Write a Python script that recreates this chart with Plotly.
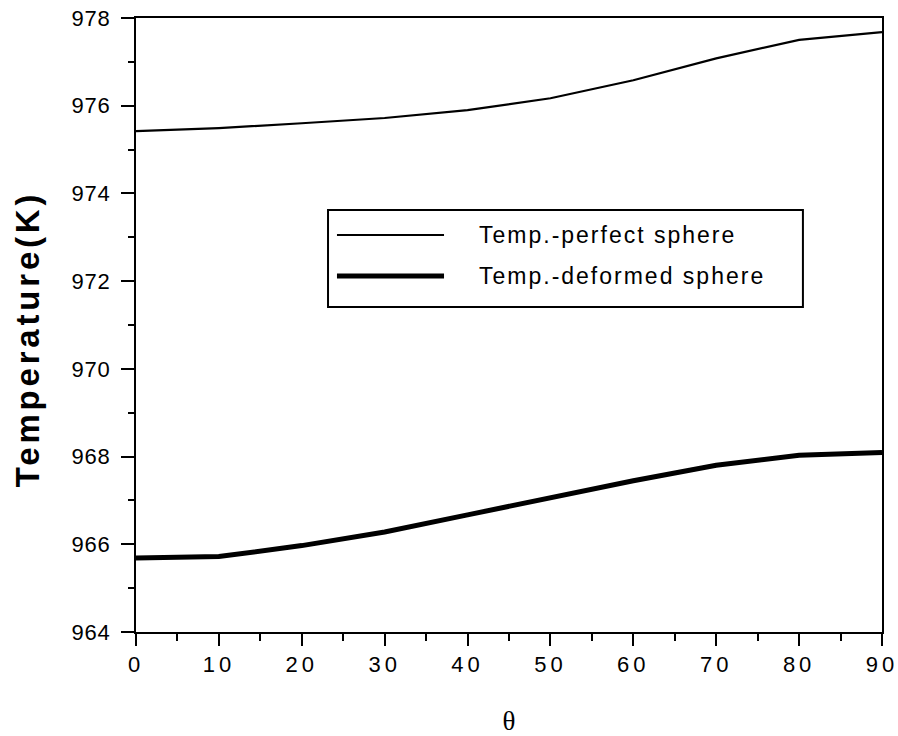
import plotly.graph_objects as go

theta = [0, 10, 20, 30, 40, 50, 60, 70, 80, 90]
temp_perfect = [975.42, 975.49, 975.60, 975.72, 975.90, 976.17, 976.58, 977.08, 977.50, 977.68]
temp_deformed = [965.69, 965.72, 965.97, 966.28, 966.67, 967.07, 967.45, 967.80, 968.03, 968.09]

name_perfect = "Temp.-perfect sphere"
name_deformed = "Temp.-deformed sphere"
x_title = "θ"
y_title = "Temperature(K)"
x_ticks = [0, 10, 20, 30, 40, 50, 60, 70, 80, 90]
y_ticks = [964, 966, 968, 970, 972, 974, 976, 978]

fig = go.Figure()
fig.add_trace(go.Scatter(x=theta, y=temp_perfect, mode="lines", name=name_perfect,
                         line=dict(color="black", width=2.2), showlegend=False))
fig.add_trace(go.Scatter(x=theta, y=temp_deformed, mode="lines", name=name_deformed,
                         line=dict(color="black", width=5), showlegend=False))

# custom legend box (paper coordinates)
fig.add_shape(type="rect", xref="paper", yref="paper", x0=0.2574, x1=0.894, y0=0.5293, y1=0.6873,
              line=dict(color="black", width=2), fillcolor="white", layer="above")
fig.add_shape(type="line", xref="paper", yref="paper", x0=0.2694, x1=0.4129, y0=0.6466, y1=0.6466,
              line=dict(color="black", width=2.2))
fig.add_shape(type="line", xref="paper", yref="paper", x0=0.2694, x1=0.4129, y0=0.5798, y1=0.5798,
              line=dict(color="black", width=5))
fig.add_annotation(xref="paper", yref="paper", x=0.4611, y=0.6466, text=name_perfect, showarrow=False,
                   xanchor="left", yanchor="middle", align="left", xshift=-3,
                   font=dict(family="Liberation Sans", size=23, color="black"))
fig.add_annotation(xref="paper", yref="paper", x=0.4611, y=0.5798, text=name_deformed, showarrow=False,
                   xanchor="left", yanchor="middle", align="left", xshift=-3,
                   font=dict(family="Liberation Sans", size=23, color="black"))

fig.update_layout(
    width=898, height=736,
    margin=dict(l=136, r=16, t=18, b=104),
    paper_bgcolor="white", plot_bgcolor="white",
    font=dict(family="Liberation Sans", color="black"),
)
fig.update_xaxes(
    range=[0, 90], tickvals=x_ticks, ticks="outside", ticklen=12, tickwidth=2, tickcolor="black",
    showline=True, linewidth=2, linecolor="black", mirror=True, showgrid=False, zeroline=False,
    automargin=False, ticklabeloverflow="allow",
    tickfont=dict(family="Liberation Sans", size=22, color="black"),
    minor=dict(dtick=5, ticks="outside", ticklen=7, tickwidth=2, tickcolor="black", showgrid=False),
    title=dict(text=x_title, font=dict(family="Liberation Serif", size=27, color="black"), standoff=46),
)
fig.update_yaxes(
    range=[964, 978], tickvals=y_ticks, ticks="outside", ticklen=13, tickwidth=2, tickcolor="black",
    showline=True, linewidth=2, linecolor="black", mirror=True, showgrid=False, zeroline=False,
    automargin=False, ticklabeloverflow="allow",
    tickfont=dict(family="Liberation Sans", size=22, color="black"), ticklabelstandoff=6,
    minor=dict(dtick=1, ticks="outside", ticklen=6, tickwidth=2, tickcolor="black", showgrid=False),
    title=dict(text=y_title, font=dict(family="Liberation Sans", size=33, color="black", weight="bold"), standoff=24),
)

post_js = """
document.body.style.margin = '0';
var gd = document.getElementById('{plot_id}');
function spacing(){
  gd.querySelectorAll('.ytitle').forEach(function(e){
    e.style.letterSpacing = '3.8px';
    var t = e.getAttribute('transform') || '';
    e.setAttribute('transform', 'translate(0,14) ' + t);
  });
  gd.querySelectorAll('.xtick text').forEach(function(e){ e.style.letterSpacing = '4px'; });
  gd.querySelectorAll('.ytick text').forEach(function(e){ e.style.letterSpacing = '0.8px'; });
  gd.querySelectorAll('.annotation-text').forEach(function(e){ e.style.letterSpacing = '2px'; });
}
spacing();
"""

fig.write_html("out.html", post_script=post_js, config={"displayModeBar": False})
